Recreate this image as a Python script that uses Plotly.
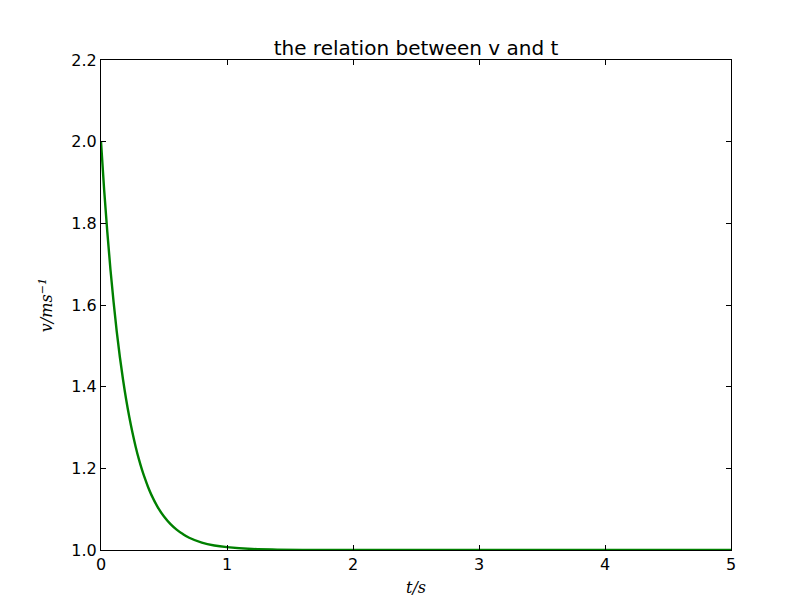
import plotly.graph_objects as go

# values
t_values = [0.0, 0.025, 0.05, 0.075, 0.1, 0.125, 0.15, 0.175, 0.2, 0.225, 0.25, 0.275, 0.3, 0.325,
            0.35, 0.375, 0.4, 0.45, 0.5, 0.55, 0.6, 0.65, 0.7, 0.8, 0.9, 1.0, 1.2, 1.4, 1.6, 1.8,
            2.0, 2.5, 3.0, 3.5, 4.0, 4.5, 5.0]
v_values = [2.0, 1.882, 1.779, 1.687, 1.607, 1.535, 1.472, 1.417, 1.368, 1.325, 1.287, 1.253, 1.223, 1.197,
            1.174, 1.153, 1.135, 1.105, 1.082, 1.064, 1.050, 1.039, 1.030, 1.018, 1.011, 1.007, 1.0025, 1.001,
            1.0003, 1.0001, 1.0, 1.0, 1.0, 1.0, 1.0, 1.0, 1.0]

x_ticks = [0, 1, 2, 3, 4, 5]
y_ticks = [1.0, 1.2, 1.4, 1.6, 1.8, 2.0, 2.2]

fig = go.Figure()
fig.add_trace(go.Scatter(
    x=t_values, y=v_values, mode="lines",
    line=dict(color="rgb(0,128,0)", width=2.4, shape="spline", smoothing=1.0),
    hoverinfo="skip", showlegend=False,
))

axis_common = dict(
    showgrid=False, zeroline=False, showline=True, linecolor="black", linewidth=1,
    mirror="allticks", ticks="inside", ticklen=5, tickwidth=1, tickcolor="black",
    tickfont=dict(family="DejaVu Sans", size=16, color="black"),
)

fig.update_layout(
    width=800, height=600,
    margin=dict(l=93, r=77, t=52, b=58),
    paper_bgcolor="white", plot_bgcolor="white",
    title=dict(text="the relation between v and t", x=0.5, xanchor="center",
               y=1 - 40 / 600, yanchor="middle",
               xref="paper",
               font=dict(family="DejaVu Sans", size=20, color="black")),
    xaxis=dict(range=[0, 5], tickvals=x_ticks, ticktext=[str(v) for v in x_ticks],
               title=dict(text="<i>t/s</i>", standoff=8,
                          font=dict(family="DejaVu Serif", size=16, color="black")),
               **axis_common),
    yaxis=dict(range=[1.0, 2.2], tickvals=y_ticks, ticktext=[f"{v:.1f}" for v in y_ticks],
               title=dict(text="<i>v/ms<sup>−1</sup></i>", standoff=14,
                          font=dict(family="DejaVu Serif", size=16, color="black")),
               **axis_common),
)

fig.write_html("out.html")
